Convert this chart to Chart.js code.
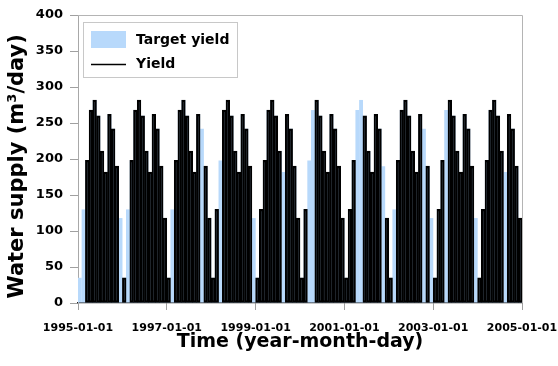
<!DOCTYPE html>
<html>
<head>
<meta charset="utf-8">
<script src="https://cdn.jsdelivr.net/npm/chart.js@4/dist/chart.umd.min.js"></script>
<style>
  html, body { margin: 0; padding: 0; background: #ffffff; }
  #wrap { width: 558px; height: 366px; }
</style>
</head>
<body>
<div id="wrap"><canvas id="supply" width="558" height="366"></canvas></div>
<script>
// Monthly water supply, January 1995 to December 2004 (m³/day)
const years = [1995, 1996, 1997, 1998, 1999, 2000, 2001, 2002, 2003, 2004];
const monthsPerYear = 12;

// x-axis labels, one every two years
const tickLabels = ['1995-01-01', '1997-01-01', '1999-01-01', '2001-01-01', '2003-01-01', '2005-01-01'];

// Target yield for each month
const targetYield = [
  35, 130, 198, 268, 282, 260, 211, 182, 262, 242, 190, 118,  // 1995
  35, 130, 198, 268, 282, 260, 211, 182, 262, 242, 190, 118,  // 1996
  35, 130, 198, 268, 282, 260, 211, 182, 262, 242, 190, 118,  // 1997
  35, 130, 198, 268, 282, 260, 211, 182, 262, 242, 190, 118,  // 1998
  35, 130, 198, 268, 282, 260, 211, 182, 262, 242, 190, 118,  // 1999
  35, 130, 198, 268, 282, 260, 211, 182, 262, 242, 190, 118,  // 2000
  35, 130, 198, 268, 282, 260, 211, 182, 262, 242, 190, 118,  // 2001
  35, 130, 198, 268, 282, 260, 211, 182, 262, 242, 190, 118,  // 2002
  35, 130, 198, 268, 282, 260, 211, 182, 262, 242, 190, 118,  // 2003
  35, 130, 198, 268, 282, 260, 211, 182, 262, 242, 190, 118   // 2004
];

// Yield actually supplied for each month (0 = supply failure)
const suppliedYield = [
   0,   0, 198, 268, 282, 260, 211, 182, 262, 242, 190,   0,  // 1995
  35,   0, 198, 268, 282, 260, 211, 182, 262, 242, 190, 118,  // 1996
  35,   0, 198, 268, 282, 260, 211, 182, 262,   0, 190, 118,  // 1997
  35, 130,   0, 268, 282, 260, 211, 182, 262, 242, 190,   0,  // 1998
  35, 130, 198, 268, 282, 260, 211,   0, 262, 242, 190, 118,  // 1999
  35, 130,   0,   0, 282, 260, 211, 182, 262, 242, 190, 118,  // 2000
  35, 130, 198,   0,   0, 260, 211, 182, 262, 242,   0, 118,  // 2001
  35,   0, 198, 268, 282, 260, 211, 182, 262,   0, 190,   0,  // 2002
  35, 130, 198,   0, 282, 260, 211, 182, 262, 242, 190,   0,  // 2003
  35, 130, 198, 268, 282, 260, 211,   0, 262, 242, 190, 118   // 2004
];

const FONT = "'DejaVu Sans', 'Liberation Sans', sans-serif";
const TARGET_BLUE = '#b8d9fb';
const TOTAL_MONTHS = years.length * monthsPerYear;

// each month is placed at its centre on a month-count axis
const toPoints = values => values.map((v, i) => ({ x: i + 0.5, y: v }));

// light frame around the plotting area
const framePlugin = {
  id: 'frame',
  afterDatasetsDraw(chart) {
    const { ctx, chartArea: { left, top, right, bottom } } = chart;
    ctx.save();
    ctx.strokeStyle = '#b4b4b4';
    ctx.lineWidth = 1;
    ctx.beginPath();
    ctx.moveTo(left, top + 0.5);
    ctx.lineTo(right + 0.5, top + 0.5);
    ctx.lineTo(right + 0.5, bottom);
    ctx.stroke();
    ctx.restore();
  }
};

// boxed legend in the upper-left corner of the plot
const boxLegendPlugin = {
  id: 'boxLegend',
  afterDraw(chart) {
    const { ctx, chartArea: { left, top } } = chart;
    const [target, supplied] = chart.data.datasets;
    const x0 = left + 5, y0 = top + 7;
    ctx.save();
    ctx.fillStyle = '#ffffff';
    ctx.fillRect(x0, y0, 154, 55);
    ctx.strokeStyle = '#c8c8c8';
    ctx.lineWidth = 1;
    ctx.strokeRect(x0 + 0.5, y0 + 0.5, 154, 55);

    ctx.fillStyle = target.backgroundColor;
    ctx.fillRect(x0 + 8, y0 + 9, 35, 17);

    ctx.strokeStyle = supplied.borderColor;
    ctx.lineWidth = 1.3;
    ctx.beginPath();
    ctx.moveTo(x0 + 8, y0 + 42.5);
    ctx.lineTo(x0 + 43, y0 + 42.5);
    ctx.stroke();

    ctx.fillStyle = '#000000';
    ctx.font = `bold 14px ${FONT}`;
    ctx.textBaseline = 'middle';
    ctx.textAlign = 'left';
    ctx.fillText(target.label, x0 + 53, y0 + 18);
    ctx.fillText(supplied.label, x0 + 53, y0 + 42);
    ctx.restore();
  }
};

new Chart(document.getElementById('supply'), {
  type: 'bar',
  data: {
    datasets: [
      {
        label: 'Target yield',
        data: toPoints(targetYield),
        backgroundColor: TARGET_BLUE,
        borderWidth: 0,
        barPercentage: 1.04,
        order: 2
      },
      {
        label: 'Yield',
        data: toPoints(suppliedYield),
        backgroundColor: 'rgba(0,0,0,0)',
        borderColor: '#000000',
        borderWidth: 1.6,
        borderSkipped: false,
        order: 1
      }
    ]
  },
  options: {
    responsive: false,
    animation: false,
    devicePixelRatio: 1,
    datasets: { bar: { grouped: false, barPercentage: 1, categoryPercentage: 1 } },
    layout: { padding: { top: 15, right: 36, bottom: 0, left: 0 } },
    plugins: { legend: { display: false }, tooltip: { enabled: false } },
    scales: {
      x: {
        type: 'linear',
        min: 0,
        max: TOTAL_MONTHS,
        offset: false,
        afterFit(scale) {
          scale.height = 63;
          scale.paddingLeft = 0;
          scale.paddingRight = 0;
        },
        grid: { drawOnChartArea: false, offset: false, tickLength: 7, color: '#a0a0a0' },
        border: { color: '#222222', width: 1.3 },
        ticks: {
          stepSize: 24,
          autoSkip: false,
          maxRotation: 0,
          padding: 12,
          color: '#000000',
          font: { family: FONT, size: 11, weight: 'bold' },
          callback: v => tickLabels[Math.round(v / 24)]
        },
        title: {
          display: true,
          text: 'Time (year-month-day)',
          color: '#000000',
          font: { family: FONT, size: 19, weight: 'bold' },
          padding: { top: 0, bottom: 13 }
        }
      },
      y: {
        min: 0,
        max: 400,
        afterFit(scale) {
          scale.width = 78;
        },
        grid: { drawOnChartArea: false, tickLength: 8, color: '#a0a0a0' },
        border: { color: '#a8a8a8', width: 1 },
        ticks: {
          stepSize: 25,
          padding: 7,
          color: '#000000',
          font: { family: FONT, size: 13, weight: 'bold' },
          callback: v => (v % 50 === 0 ? v : '')
        },
        title: {
          display: true,
          text: 'Water supply (m³/day)  ',
          color: '#000000',
          font: { family: FONT, size: 21, weight: 'bold' },
          padding: { top: 5, bottom: 0 }
        }
      }
    }
  },
  plugins: [framePlugin, boxLegendPlugin]
});
</script>
</body>
</html>
